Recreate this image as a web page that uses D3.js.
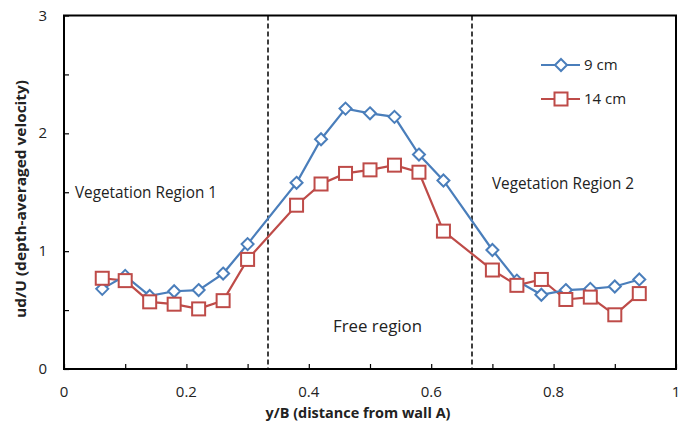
<!DOCTYPE html>
<html>
<head>
<meta charset="utf-8">
<script src="https://cdn.jsdelivr.net/npm/d3@7"></script>
<style>
  html, body { margin: 0; padding: 0; background: #fff; }
  svg { display: block; font-family: "Open Sans", "Noto Sans", sans-serif; }
</style>
</head>
<body>
<svg id="chart" width="682" height="421"></svg>
<script>
// chart data
const xPos = [0.0625, 0.1, 0.14, 0.18, 0.22, 0.26, 0.30, 0.38, 0.42, 0.46, 0.50,
              0.54, 0.58, 0.62, 0.70, 0.74, 0.78, 0.82, 0.86, 0.90, 0.94];
const cm9 = [0.68, 0.79, 0.62, 0.66, 0.67, 0.81, 1.06, 1.58, 1.95, 2.21, 2.17,
             2.14, 1.82, 1.60, 1.01, 0.75, 0.63, 0.67, 0.68, 0.70, 0.76];
const cm14 = [0.77, 0.75, 0.57, 0.55, 0.51, 0.58, 0.93, 1.39, 1.57, 1.66, 1.69,
              1.73, 1.67, 1.17, 0.84, 0.71, 0.76, 0.59, 0.61, 0.46, 0.64];
const seriesNames = ['9 cm', '14 cm'];
const regionBounds = [1 / 3, 2 / 3];
const xTickLabels = [0, 0.2, 0.4, 0.6, 0.8, 1];
const yTickLabels = [0, 1, 2, 3];

const svg = d3.select('#chart');
const M = {left: 64, right: 676, top: 15.5, bottom: 369};
const x = d3.scaleLinear().domain([0, 1]).range([M.left, M.right]);
const y = d3.scaleLinear().domain([0, 3]).range([M.bottom, M.top]);

const BLUE = '#4a7ebb', RED = '#be4b48';

// inner ticks (no labels)
svg.append('g')
  .attr('transform', 'translate(0,' + M.bottom + ')')
  .call(d3.axisTop(x).tickValues(d3.range(0, 1.0001, 0.1)).tickSize(5).tickFormat(''))
  .call(g => g.select('.domain').remove())
  .selectAll('line').attr('stroke', '#000').attr('stroke-width', 1.2);
svg.append('g')
  .attr('transform', 'translate(' + M.left + ',0)')
  .call(d3.axisRight(y).tickValues(d3.range(0, 3.0001, 0.5)).tickSize(5).tickFormat(''))
  .call(g => g.select('.domain').remove())
  .selectAll('line').attr('stroke', '#000').attr('stroke-width', 1.2);

// tick labels
svg.append('g').selectAll('text').data(xTickLabels).join('text')
  .attr('x', d => x(d)).attr('y', 397)
  .attr('text-anchor', 'middle').attr('font-size', 15).attr('fill', '#222')
  .text(d => d);
svg.append('g').selectAll('text').data(yTickLabels).join('text')
  .attr('x', 47).attr('y', d => y(d) + 5)
  .attr('text-anchor', 'end').attr('font-size', 15).attr('fill', '#222')
  .text(d => d);

// frame
svg.append('rect')
  .attr('x', M.left).attr('y', M.top)
  .attr('width', M.right - M.left).attr('height', M.bottom - M.top)
  .attr('fill', 'none').attr('stroke', '#000').attr('stroke-width', 2);

// region boundaries
svg.append('g').selectAll('line').data(regionBounds).join('line')
  .attr('x1', d => x(d)).attr('x2', d => x(d))
  .attr('y1', M.top).attr('y2', M.bottom)
  .attr('stroke', '#000').attr('stroke-width', 1.5).attr('stroke-dasharray', '5,3');

// region labels
const notes = [
  {t: 'Vegetation Region 1', x: 75, y: 198, w: 142},
  {t: 'Vegetation Region 2', x: 492, y: 189, w: 142},
  {t: 'Free region', x: 333, y: 332, w: 89}
];
svg.append('g').selectAll('text').data(notes).join('text')
  .attr('x', d => d.x).attr('y', d => d.y)
  .attr('font-size', 15.5).attr('fill', '#222')
  .attr('textLength', d => d.w).attr('lengthAdjust', 'spacingAndGlyphs')
  .text(d => d.t);

// series
const line = d3.line().x(d => x(d[0])).y(d => y(d[1]));
const s9 = xPos.map((v, i) => [v, cm9[i]]);
const s14 = xPos.map((v, i) => [v, cm14[i]]);

svg.append('path').datum(s14).attr('d', line)
  .attr('fill', 'none').attr('stroke', RED).attr('stroke-width', 2.2);
svg.append('path').datum(s9).attr('d', line)
  .attr('fill', 'none').attr('stroke', BLUE).attr('stroke-width', 2.2);

const diamond = (cx, cy) => 'M' + cx + ',' + (cy - 6) + 'L' + (cx + 6) + ',' + cy +
  'L' + cx + ',' + (cy + 6) + 'L' + (cx - 6) + ',' + cy + 'Z';

svg.append('g').selectAll('path').data(s9).join('path')
  .attr('d', d => diamond(x(d[0]), y(d[1])))
  .attr('fill', '#fff').attr('stroke', BLUE).attr('stroke-width', 2);
svg.append('g').selectAll('rect').data(s14).join('rect')
  .attr('x', d => x(d[0]) - 6.5).attr('y', d => y(d[1]) - 6.5)
  .attr('width', 13).attr('height', 13)
  .attr('fill', '#fff').attr('stroke', RED).attr('stroke-width', 2);

// legend
const lg = svg.append('g');
[[BLUE, 65], [RED, 99]].forEach(([c, ly], i) => {
  lg.append('line').attr('x1', 541).attr('x2', 580).attr('y1', ly).attr('y2', ly)
    .attr('stroke', c).attr('stroke-width', 2.2);
  if (i === 0) {
    lg.append('path').attr('d', diamond(561, ly))
      .attr('fill', '#fff').attr('stroke', c).attr('stroke-width', 2);
  } else {
    lg.append('rect').attr('x', 554.5).attr('y', ly - 6.5).attr('width', 13).attr('height', 13)
      .attr('fill', '#fff').attr('stroke', c).attr('stroke-width', 2);
  }
  lg.append('text').attr('x', 584).attr('y', ly + 5).attr('font-size', 15).attr('fill', '#222')
    .text(seriesNames[i]);
});

// axis titles
svg.append('text')
  .attr('x', 358).attr('y', 418).attr('text-anchor', 'middle')
  .attr('font-size', 15).attr('font-weight', 'bold').attr('fill', '#222')
  .attr('textLength', 185).attr('lengthAdjust', 'spacingAndGlyphs')
  .text('y/B (distance from wall A)');
svg.append('text')
  .attr('transform', 'translate(26,199) rotate(-90)').attr('text-anchor', 'middle')
  .attr('font-size', 15).attr('font-weight', 'bold').attr('fill', '#222')
  .attr('textLength', 238).attr('lengthAdjust', 'spacingAndGlyphs')
  .text('ud/U (depth-averaged velocity)');
</script>
</body>
</html>
